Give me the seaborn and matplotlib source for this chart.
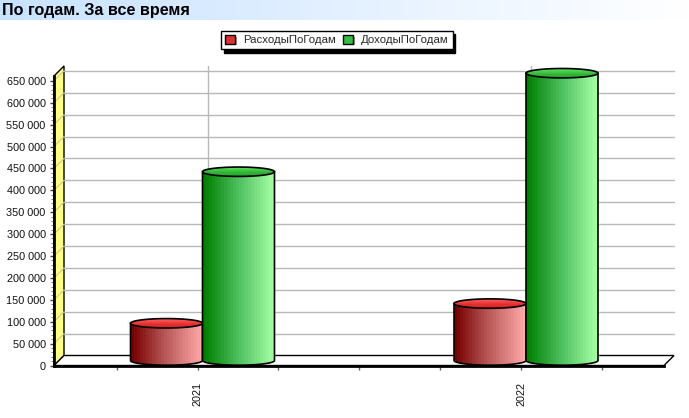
"""
plot.py

Yearly expenses and income as pseudo-3D cylinders. seaborn places the bars,
the cylinder look is layered on top of them in data coordinates.
"""

import numpy as np
import pandas as pd
import matplotlib
matplotlib.use("Agg")
import matplotlib.pyplot as plt
import matplotlib.patheffects as pe
import seaborn as sns
from matplotlib.colors import LinearSegmentedColormap
from matplotlib.patches import Patch, Polygon
from matplotlib.transforms import Affine2D

years = ["2021", "2022"]
expenses = [85000, 130000]
income = [431000, 656000]
series_names = ["РасходыПоГодам", "ДоходыПоГодам"]
y_ticks = list(range(0, 650001, 50000))
title_text = "По годам. За все время"

W, H = 689, 418
DEPTH = 10  # px, how far the back wall sits behind the front plane
CAP_PX = 4.7  # px, half height of the cylinder caps

sns.set_theme(style="white")
plt.rcParams["font.family"] = ["Liberation Sans", "DejaVu Sans"]

df = pd.DataFrame({
    "year": years * 2,
    "series": [series_names[0]] * 2 + [series_names[1]] * 2,
    "value": expenses + income,
})

fig = plt.figure(figsize=(W / 100, H / 100), dpi=100, facecolor="white")
ax = fig.add_axes([54 / W, 1 - 365.5 / H, 610 / W, 289.5 / H])
ax.patch.set_visible(False)

sns.barplot(data=df, x="year", y="value", hue="series", hue_order=series_names,
            order=years, width=0.445, dodge=True, legend=False, ax=ax,
            palette=["#c02020", "#20a020"], saturation=1)
bars = sorted([b for b in ax.patches if b.get_height() > 0], key=lambda b: b.get_x())

x0, x1 = -0.4436, 1.442
y1 = 661000
ax.set_xlim(x0, x1)
ax.set_ylim(0, y1)
ax.set_xlabel("")
ax.set_ylabel("")

mid = ax.transData + Affine2D().translate(DEPTH / 2, DEPTH / 2)
back = ax.transData + Affine2D().translate(DEPTH, DEPTH)

# --- left wall and floor, in pixels from the axes corners ---
px = Affine2D()
(lx, by), (rx, ty) = ax.transAxes.transform((0, 0)), ax.transAxes.transform((1, 1))
ax.add_patch(Polygon([(lx, by), (lx, ty), (lx + DEPTH, ty + DEPTH), (lx + DEPTH, by + DEPTH)],
                     closed=True, transform=px, facecolor="#ffff80", edgecolor="black",
                     lw=1.0, zorder=0.5, clip_on=False))
ax.add_patch(Polygon([(lx, by), (lx + DEPTH, by + DEPTH), (rx + DEPTH, by + DEPTH), (rx, by)],
                     closed=True, transform=px, facecolor="white", edgecolor="black",
                     lw=1.0, zorder=0.5, clip_on=False))

# --- gridlines on the back wall, with their run along the left wall ---
grid_color = "#b8b8b8"
for v in y_ticks[1:]:
    ax.plot([x0, x1], [v, v], transform=back, color=grid_color, lw=1, zorder=0.6, clip_on=False)
    p = ax.transData.transform((x0, v))
    ax.plot([p[0], p[0] + DEPTH], [p[1], p[1] + DEPTH], transform=px,
            color="#c8c8a0", lw=0.8, zorder=0.55, clip_on=False)
for i in range(len(years)):
    ax.plot([i, i], [0, y1], transform=back, color=grid_color, lw=1, zorder=0.6, clip_on=False)

# --- turn the seaborn bars into cylinders ---
red_cm = LinearSegmentedColormap.from_list("red_body", ["#780000", "#bc5c5c", "#ffa8a8"], N=24)
green_cm = LinearSegmentedColormap.from_list("green_body", ["#008000", "#50c060", "#a4ffa4"], N=24)
red_cap = LinearSegmentedColormap.from_list("red_cap", ["#d81c1c", "#ff5a5a"], N=8)
green_cap = LinearSegmentedColormap.from_list("green_cap", ["#22a02a", "#58e058"], N=8)

cap_v = CAP_PX / (289.5 / y1)
t = np.linspace(0, np.pi, 60)

for n, bar in enumerate(bars):
    is_red = n % 2 == 0
    left, w, h = bar.get_x(), bar.get_width(), bar.get_height()
    cx, rx_data = left + w / 2, w / 2
    bar.set_transform(mid)
    bar.set_clip_on(False)
    bar.set_zorder(2 + n)

    # body: rectangle closed by the lower half of the bottom cap
    body_x = np.r_[cx - rx_data, cx - rx_data * np.cos(t), cx + rx_data]
    body_y = np.r_[h, -cap_v * np.sin(t), h]
    outline = Polygon(np.c_[body_x, body_y], closed=True, transform=mid, facecolor="none",
                      edgecolor="black", lw=1.2, clip_on=False, zorder=2.2 + n)
    ax.add_patch(outline)
    grad = np.linspace(0, 1, 200).reshape(1, -1)
    im = ax.imshow(grad, cmap=red_cm if is_red else green_cm, aspect="auto",
                   extent=(left, left + w, -cap_v, h), transform=mid, zorder=2.1 + n,
                   interpolation="nearest")
    # a figure-wide box, since the tallest cap pokes out of the axes
    im.set_clip_box(fig.bbox)
    im.set_clip_path(outline)

    # top cap
    top_x = cx + rx_data * np.cos(2 * t)
    top_y = h + cap_v * np.sin(2 * t)
    cap = Polygon(np.c_[top_x, top_y], closed=True, transform=mid, facecolor="none",
                  edgecolor="black", lw=1.2, clip_on=False, zorder=2.4 + n)
    ax.add_patch(cap)
    grad = np.linspace(0, 1, 20).reshape(-1, 1)
    im = ax.imshow(grad, cmap=red_cap if is_red else green_cap, aspect="auto", origin="lower",
                   extent=(left, left + w, h - cap_v, h + cap_v), transform=mid,
                   zorder=2.3 + n, interpolation="nearest")
    im.set_clip_box(fig.bbox)
    im.set_clip_path(cap)

# imshow resets the view
ax.set_xlim(x0, x1)
ax.set_ylim(0, y1)

# --- axes and ticks ---
sns.despine(ax=ax, top=True, right=True)
ax.spines["left"].set(color="black", linewidth=2, zorder=10)
ax.spines["bottom"].set(color="black", linewidth=2, zorder=10)
ax.set_yticks(y_ticks)
ax.set_yticklabels([f"{v:,}".replace(",", " ") for v in y_ticks], fontsize=7.8, color="#101010")
ax.set_yticks(np.arange(0, 650001, 10000), minor=True)
ax.set_xticks(range(len(years)))
ax.set_xticklabels(years, rotation=90, fontsize=7.8, color="#101010")
ax.set_xticks([-0.25, 0.25, 0.5, 0.75, 1.25], minor=True)
ax.tick_params(axis="y", which="major", left=True, length=3, width=1, color="#404040", pad=3)
ax.tick_params(axis="y", which="minor", left=True, length=2, width=0.7, color="#808080")
ax.tick_params(axis="x", which="both", bottom=True, length=3, width=1, color="#606060")
ax.tick_params(axis="x", which="major", pad=9)
ax.grid(False)

# --- title banner ---
banner = fig.add_axes([0, 1 - 20 / H, 1, 20 / H], zorder=5)
banner.imshow(np.linspace(0, 1, 256).reshape(1, -1), aspect="auto",
              cmap=LinearSegmentedColormap.from_list("banner", ["#c8e2ff", "#ffffff"]))
banner.axis("off")
banner.text(2 / W, 0.47, title_text, transform=banner.transAxes, fontsize=11.6,
            fontweight="bold", color="black", va="center", ha="left")

# --- legend ---
handle_shadow = [pe.SimplePatchShadow(offset=(1.2, -1.2), shadow_rgbFace="#a0a0a0", alpha=1), pe.Normal()]
handles = [Patch(facecolor="#e03030", edgecolor="black", label=series_names[0],
                 path_effects=handle_shadow),
           Patch(facecolor="#30c040", edgecolor="black", label=series_names[1],
                 path_effects=handle_shadow)]
leg = fig.legend(handles=handles, loc="center", bbox_to_anchor=(337 / W, 1 - 40 / H), ncol=2,
                 fontsize=8.2, frameon=True, fancybox=False, edgecolor="black",
                 facecolor="white", framealpha=1, borderpad=0.35, handlelength=0.85,
                 handleheight=0.8, handletextpad=0.7, columnspacing=0.65, labelspacing=0,
                 shadow={"color": "black", "alpha": 1, "ox": 2, "oy": -2.5})
leg.get_frame().set_linewidth(1)

fig.savefig("out.png", dpi=100)
